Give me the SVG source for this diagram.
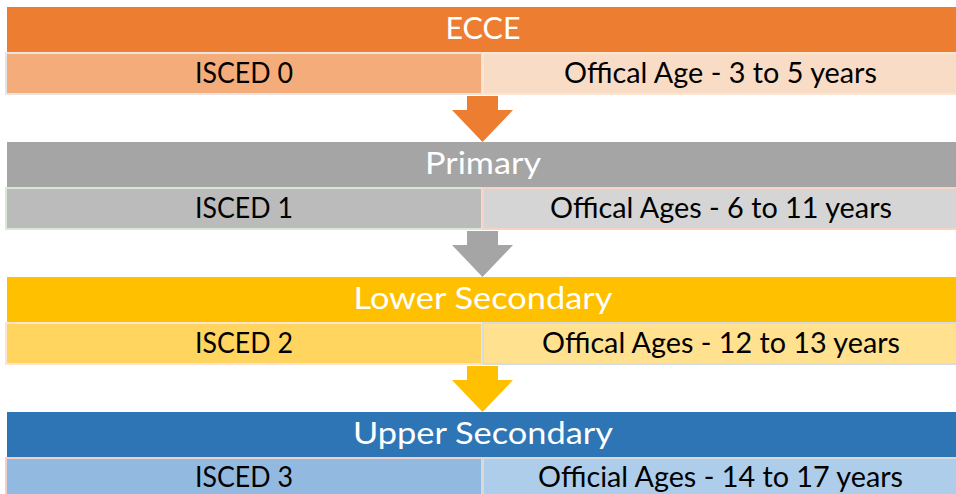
<svg xmlns="http://www.w3.org/2000/svg" width="956" height="494" viewBox="0 0 956 494">
<style>
.hd{font-family:Lato,"Liberation Sans",Arial,sans-serif;font-size:31px;fill:#FFFFFF;text-anchor:middle}
.tx{font-family:Lato,"Liberation Sans",Arial,sans-serif;font-size:29px;fill:#000000;text-anchor:middle}
.cell{stroke-width:2}
</style>
<rect width="956" height="494" fill="#FFFFFF"/>
<g id="connectors">
<polygon points="467,96 498,96 498,110 513,110 482.5,142 452,110 467,110" fill="#ED7D31"/>
<polygon points="467,231 498,231 498,245 513,245 482.5,277 452,245 467,245" fill="#A5A5A5"/>
<polygon points="467,366 498,366 498,380 513,380 482.5,412 452,380 467,380" fill="#FFC000"/>
</g>
<g id="ecce">
<rect x="7" y="7" width="960" height="45" fill="#ED7D31"/>
<text class="hd" x="483" y="39" textLength="75" lengthAdjust="spacingAndGlyphs">ECCE</text>
</g>
<g id="isced0">
<rect class="cell" x="6" y="53" width="476" height="41" fill="#F4AC7A" stroke="#E8E4E1"/>
<text class="tx" x="244" y="83" textLength="98" lengthAdjust="spacingAndGlyphs">ISCED 0</text>
</g>
<g id="age0">
<rect class="cell" x="483" y="53" width="480" height="41" fill="#F9DCC5" stroke="#FBE6D6"/>
<text class="tx" x="720.5" y="83" textLength="313" lengthAdjust="spacingAndGlyphs">Offical Age - 3 to 5 years</text>
</g>
<g id="primary">
<rect x="7" y="142" width="960" height="45" fill="#A5A5A5"/>
<text class="hd" x="483" y="174" textLength="116" lengthAdjust="spacingAndGlyphs">Primary</text>
</g>
<g id="isced1">
<rect class="cell" x="6" y="188" width="476" height="41" fill="#BBBBBB" stroke="#D8E8D4"/>
<text class="tx" x="244" y="218" textLength="98" lengthAdjust="spacingAndGlyphs">ISCED 1</text>
</g>
<g id="age1">
<rect class="cell" x="483" y="188" width="480" height="41" fill="#D5D5D5" stroke="#F8D3C3"/>
<text class="tx" x="721" y="218" textLength="342" lengthAdjust="spacingAndGlyphs">Offical Ages - 6 to 11 years</text>
</g>
<g id="lower-secondary">
<rect x="7" y="277" width="960" height="45" fill="#FFC000"/>
<text class="hd" x="483" y="309" textLength="259" lengthAdjust="spacingAndGlyphs">Lower Secondary</text>
</g>
<g id="isced2">
<rect class="cell" x="6" y="323" width="476" height="41" fill="#FFD55F" stroke="#FCE4D0"/>
<text class="tx" x="244" y="353" textLength="98" lengthAdjust="spacingAndGlyphs">ISCED 2</text>
</g>
<g id="age2">
<rect class="cell" x="483" y="323" width="480" height="41" fill="#FFE18F" stroke="#D6DCE4"/>
<text class="tx" x="721" y="353" textLength="358" lengthAdjust="spacingAndGlyphs">Offical Ages - 12 to 13 years</text>
</g>
<g id="upper-secondary">
<rect x="7" y="412" width="960" height="45" fill="#2E75B6"/>
<text class="hd" x="483" y="444" textLength="260" lengthAdjust="spacingAndGlyphs">Upper Secondary</text>
</g>
<g id="isced3">
<rect class="cell" x="6" y="458" width="476" height="41" fill="#92BAE0" stroke="#F2CFCF"/>
<text class="tx" x="244" y="487" textLength="98" lengthAdjust="spacingAndGlyphs">ISCED 3</text>
</g>
<g id="age3">
<rect class="cell" x="483" y="458" width="480" height="41" fill="#AECDEA" stroke="#D9D9D9"/>
<text class="tx" x="720.5" y="487" textLength="365" lengthAdjust="spacingAndGlyphs">Official Ages - 14 to 17 years</text>
</g>
</svg>
